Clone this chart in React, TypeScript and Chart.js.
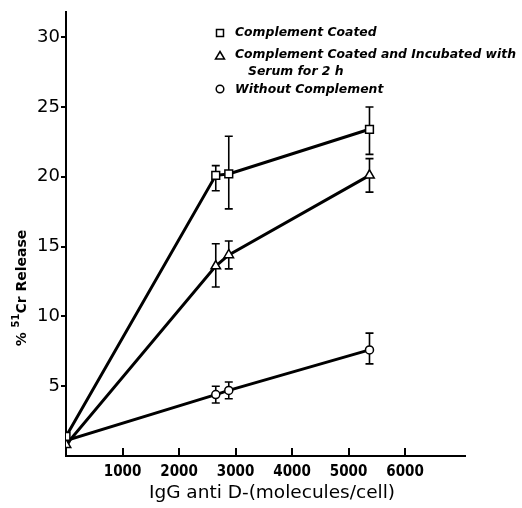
import React, { useEffect, useRef } from 'react';
import { Chart, registerables } from 'chart.js';

Chart.register(...registerables);

// ---- data ----
const xValues = [0, 2650, 2880, 5370];

const coatedValues = [1.4, 20.1, 20.2, 23.4];
const coatedLow = [null, 19.0, 17.7, 21.6];
const coatedHigh = [null, 20.8, 22.9, 25.0];

const incubatedValues = [0.8, 13.6, 14.4, 20.1];
const incubatedLow = [null, 12.1, 13.4, 18.9];
const incubatedHigh = [null, 15.2, 15.4, 21.3];

const withoutValues = [1.1, 4.4, 4.7, 7.6];
const withoutLow = [null, 3.8, 4.1, 6.6];
const withoutHigh = [null, 5.0, 5.3, 8.8];

const legendLabels = [
  ['Complement Coated'],
  ['Complement Coated and Incubated with', 'Serum for 2 h'],
  ['Without Complement'],
];
const pointStyles = ['rect', 'triangle', 'circle'];
const pointRadii = [5.5, 5.5, 4];

const xTickValues = [1000, 2000, 3000, 4000, 5000, 6000];
const yTickValues = [5, 10, 15, 20, 25, 30];

const xTitle = 'IgG anti D-(molecules/cell)';
const yTitleParts = ['% ', '51', 'Cr Release'];

const lows = [coatedLow, incubatedLow, withoutLow];
const highs = [coatedHigh, incubatedHigh, withoutHigh];

const errorBarPlugin = {
  id: 'errorBars',
  beforeDatasetsDraw(chart: any) {
    const { ctx, scales } = chart;
    const xs = scales.x;
    const ys = scales.y;
    ctx.save();
    ctx.strokeStyle = '#000';
    ctx.lineWidth = 1.6;
    lows.forEach((lowArr, di) => {
      const highArr = highs[di];
      xValues.forEach((xv, i) => {
        const lo = lowArr[i];
        const hi = highArr[i];
        if (lo == null || hi == null) return;
        const px = xs.getPixelForValue(xv);
        const pl = ys.getPixelForValue(lo);
        const ph = ys.getPixelForValue(hi);
        ctx.beginPath();
        ctx.moveTo(px, pl);
        ctx.lineTo(px, ph);
        ctx.moveTo(px - 4, pl);
        ctx.lineTo(px + 4, pl);
        ctx.moveTo(px - 4, ph);
        ctx.lineTo(px + 4, ph);
        ctx.stroke();
      });
    });
    ctx.restore();
  },
};

const decorPlugin = {
  id: 'decor',
  afterDraw(chart: any) {
    const { ctx, scales, chartArea } = chart;
    const xs = scales.x;
    ctx.save();
    // inward x tick marks
    ctx.strokeStyle = '#000';
    ctx.lineWidth = 2;
    xTickValues.forEach((v) => {
      const px = Math.round(xs.getPixelForValue(v));
      ctx.beginPath();
      ctx.moveTo(px, chartArea.bottom);
      ctx.lineTo(px, chartArea.bottom - 8);
      ctx.stroke();
    });

    // x title
    ctx.fillStyle = '#000';
    ctx.font = "18.5px 'DejaVu Sans'";
    ctx.textAlign = 'center';
    ctx.textBaseline = 'middle';
    ctx.fillText(xTitle, 272, 493);

    // y title with superscript
    ctx.save();
    ctx.translate(21, 288);
    ctx.rotate(-Math.PI / 2);
    const bigFont = "bold 14px 'DejaVu Sans'";
    const smallFont = "bold 10px 'DejaVu Sans'";
    ctx.font = bigFont;
    const w0 = ctx.measureText(yTitleParts[0]).width;
    const w2 = ctx.measureText(yTitleParts[2]).width;
    ctx.font = smallFont;
    const w1 = ctx.measureText(yTitleParts[1]).width;
    const total = w0 + w1 + w2;
    let cx = -total / 2;
    ctx.textAlign = 'left';
    ctx.textBaseline = 'alphabetic';
    ctx.font = bigFont;
    ctx.fillText(yTitleParts[0], cx, 5);
    cx += w0;
    ctx.font = smallFont;
    ctx.fillText(yTitleParts[1], cx, -2);
    cx += w1;
    ctx.font = bigFont;
    ctx.fillText(yTitleParts[2], cx, 5);
    ctx.restore();

    // legend
    const markerX = 220;
    const textX = 235;
    const markerYs = [33, 56, 89];
    const lineYs = [[33], [55, 72], [90]];
    ctx.font = "italic bold 12.4px 'DejaVu Sans'";
    ctx.textAlign = 'left';
    ctx.textBaseline = 'middle';
    legendLabels.forEach((lines, i) => {
      const my = markerYs[i];
      ctx.lineWidth = 1.5;
      ctx.strokeStyle = '#000';
      ctx.fillStyle = '#fff';
      ctx.beginPath();
      if (pointStyles[i] === 'rect') {
        ctx.rect(markerX - 3.5, my - 3.5, 7, 7);
      } else if (pointStyles[i] === 'triangle') {
        ctx.moveTo(markerX, my - 4.5);
        ctx.lineTo(markerX + 4.5, my + 3);
        ctx.lineTo(markerX - 4.5, my + 3);
        ctx.closePath();
      } else {
        ctx.arc(markerX, my, 3.8, 0, Math.PI * 2);
      }
      ctx.fill();
      ctx.stroke();
      ctx.fillStyle = '#000';
      lines.forEach((line, li) => {
        ctx.fillText(line, textX + (li > 0 ? 13 : 0), lineYs[i][li]);
      });
    });
    ctx.restore();
  },
};

function makeDataset(values: number[], idx: number) {
  return {
    label: legendLabels[idx].join(' '),
    data: xValues.map((x, i) => ({ x, y: values[i] })),
    borderColor: '#000',
    borderWidth: 3,
    backgroundColor: '#fff',
    pointStyle: pointStyles[idx],
    pointRadius: pointRadii[idx],
    pointBorderWidth: 1.5,
    pointBorderColor: '#000',
    pointBackgroundColor: '#fff',
    tension: 0,
    fill: false,
  };
}

export default function App() {
  const canvasRef = useRef<HTMLCanvasElement | null>(null);

  useEffect(() => {
    if (!canvasRef.current) return;
    const chart = new Chart(canvasRef.current, {
      type: 'line',
      data: {
        datasets: [
          makeDataset(coatedValues, 0),
          makeDataset(incubatedValues, 1),
          makeDataset(withoutValues, 2),
        ],
      },
      options: {
        responsive: false,
        animation: false,
        layout: { padding: { top: 12, right: 57, left: 0, bottom: 0 } },
        plugins: {
          legend: { display: false },
          tooltip: { enabled: false },
          title: { display: false },
        },
        scales: {
          x: {
            type: 'linear',
            min: 0,
            max: 7060,
            afterFit: (s: any) => {
              s.height = 52;
            },
            afterBuildTicks: (s: any) => {
              s.ticks = xTickValues.map((v) => ({ value: v }));
            },
            grid: { display: false, drawTicks: false },
            border: { display: true, color: '#000', width: 2 },
            ticks: {
              color: '#000',
              padding: 7,
              callback: (v: any) => String(v),
              font: { family: "'Liberation Sans Narrow', 'DejaVu Sans Condensed', 'DejaVu Sans'", size: 15, weight: 'bold' },
              maxRotation: 0,
              autoSkip: false,
            },
          },
          y: {
            type: 'linear',
            min: 0,
            max: 31.8,
            afterFit: (s: any) => {
              s.width = 66;
            },
            afterBuildTicks: (s: any) => {
              s.ticks = yTickValues.map((v) => ({ value: v }));
            },
            grid: {
              display: true,
              drawOnChartArea: false,
              drawTicks: true,
              tickLength: 5,
              color: '#000',
              lineWidth: 2,
            },
            border: { display: true, color: '#000', width: 2 },
            ticks: {
              color: '#000',
              padding: 1,
              callback: (v: any) => String(v),
              font: { family: "'DejaVu Sans'", size: 18 },
              autoSkip: false,
            },
          },
        },
      },
      plugins: [errorBarPlugin, decorPlugin],
    } as any);
    return () => chart.destroy();
  }, []);

  return (
    <div style={{ position: 'absolute', left: 0, top: 0, width: 522, height: 508, background: '#fff' }}>
      <canvas ref={canvasRef} width={522} height={508} style={{ display: 'block' }} />
    </div>
  );
}
